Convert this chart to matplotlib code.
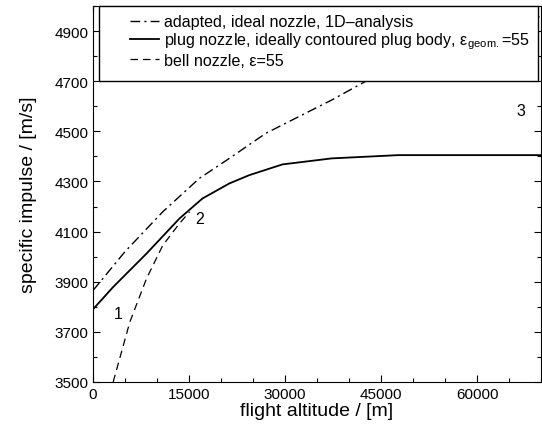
import matplotlib
matplotlib.use('Agg')
import matplotlib.pyplot as plt
from matplotlib.patches import Rectangle
from matplotlib.ticker import MultipleLocator

plt.rcParams['font.family'] = ['Liberation Sans', 'DejaVu Sans']

# flight altitude [m] / specific impulse [m/s]
alt_adapted = [0, 5000, 10900, 16600, 21300, 27000, 37300, 43000, 55000, 70000]
isp_adapted = [3865, 4020, 4179, 4312, 4392, 4492, 4625, 4705, 4830, 4960]

alt_plug = [0, 3150, 8350, 13500, 17100, 21300, 24400, 29600, 37300, 47700, 70000]
isp_plug = [3790, 3879, 4012, 4152, 4232, 4292, 4325, 4368, 4392, 4405, 4405]

alt_bell = [3150, 5750, 8350, 10900, 13500, 15100]
isp_bell = [3500, 3739, 3912, 4045, 4132, 4179]

labels = ['adapted, ideal nozzle, 1D\u2013analysis',
          'plug nozzle, ideally contoured plug body, ε$_{\\mathregular{geom.}}$=55',
          'bell nozzle, ε=55']

isp_ticks = [3500, 3700, 3900, 4100, 4300, 4500, 4700, 4900]

point_labels = ['1', '2', '3']
point_alt = [3900, 16600, 66800]
point_isp = [3772, 4152, 4584]

fig = plt.figure(figsize=(5.42, 4.31), dpi=100)
ax = fig.add_axes([0.1716, 0.1114, 0.8266, 0.8724])

ax.plot(alt_adapted, isp_adapted, color='black', lw=1.0,
        dashes=(7, 3, 1.5, 3), label=labels[0], zorder=2)
ax.plot(alt_plug, isp_plug, color='black', lw=1.3, label=labels[1], zorder=2)
ax.plot(alt_bell, isp_bell, color='black', lw=0.9,
        dashes=(6, 4), label=labels[2], zorder=2)

for t, x, y in zip(point_labels, point_alt, point_isp):
    ax.text(x, y, t, fontsize=11.5, ha='center', va='center')

ax.set_xlim(0, 70000)
ax.set_ylim(3500, 5000)
ax.xaxis.set_major_locator(MultipleLocator(15000))
ax.xaxis.set_minor_locator(MultipleLocator(5000))
ax.set_yticks(isp_ticks)
ax.yaxis.set_minor_locator(MultipleLocator(100))
ax.tick_params(which='both', direction='in', top=True, right=True, labelsize=11)
ax.tick_params(which='major', length=5, width=0.8)
ax.tick_params(which='minor', length=3, width=0.8)
ax.set_xlabel('flight altitude / [m]', fontsize=14, labelpad=1)
ax.set_ylabel('specific impulse / [m/s]', fontsize=14, labelpad=12)

# legend box reaching down to the 4700 line
ax.add_patch(Rectangle((0.0134, 0.8005), 0.98, 0.1995, transform=ax.transAxes,
                       facecolor='white', edgecolor='black', lw=1.0,
                       zorder=3, clip_on=False))
leg = ax.legend(loc='upper left', bbox_to_anchor=(0.083, 0.978),
                frameon=False, fontsize=11.6, handlelength=1.8,
                handletextpad=0.3, labelspacing=0.1,
                borderpad=0, borderaxespad=0)
leg.set_zorder(5)

fig.savefig('out.png', dpi=100)
